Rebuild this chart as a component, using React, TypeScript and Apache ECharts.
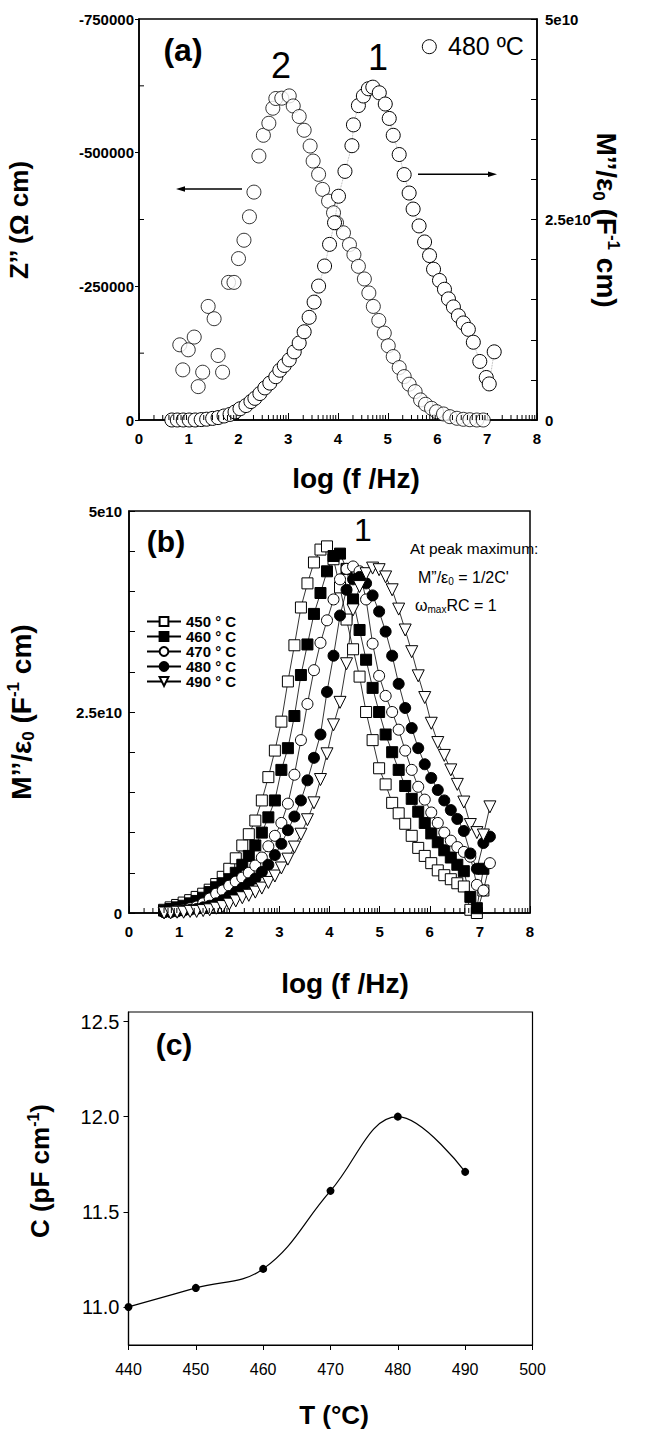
import React, { useEffect, useRef } from "react";
import * as echarts from "echarts";

// ---------- Panel (a): 480 °C, Z'' (left axis) and M''/eps0 (right axis) ----------
const zLogF = [0.82,0.88,0.99,1.11,1.19,1.28,1.39,1.51,1.59,1.68,1.80,1.91,2.00,2.11,2.22,2.31,2.41,2.50,2.61,2.69,2.75,2.87,3.02,3.10,3.22,3.32,3.44,3.50,3.61,3.69,3.81,3.91,3.97,4.11,4.23,4.32,4.41,4.53,4.62,4.71,4.82,4.93,5.01,5.11,5.23,5.33,5.43,5.55,5.66,5.76,5.88,5.98,6.12,6.25,6.39,6.52,6.65,6.79,6.92,7.02];
const zValues = [-140600,-93800,-131300,-155100,-62400,-89400,-212400,-189400,-120600,-89400,-257400,-257400,-301900,-336200,-380100,-426200,-493700,-532500,-555000,-583100,-601300,-601900,-606200,-587400,-567600,-541900,-512400,-484300,-459400,-431300,-409300,-387600,-368800,-350100,-328100,-309400,-287400,-263800,-237600,-212400,-186200,-162600,-138800,-118700,-98100,-81200,-66900,-53100,-37500,-29400,-21900,-15600,-11300,-6200,-3200,-1300,-500,0,0,1000];

const mLogF = [0.66,0.77,0.89,1.01,1.13,1.25,1.36,1.48,1.59,1.71,1.83,1.93,2.03,2.15,2.25,2.33,2.43,2.53,2.63,2.75,2.83,2.92,3.02,3.12,3.22,3.32,3.42,3.52,3.61,3.73,3.83,3.93,4.01,4.14,4.28,4.31,4.41,4.51,4.61,4.70,4.83,4.95,5.03,5.11,5.23,5.33,5.43,5.51,5.63,5.74,5.84,5.92,6.04,6.14,6.22,6.32,6.42,6.52,6.62,6.72,6.85,6.98,7.04,7.14];
// M''/eps0 in units of 1e10 F^-1 cm
const mValues = [0,0,0,0,0,0.005,0.01,0.02,0.03,0.05,0.07,0.10,0.14,0.18,0.23,0.27,0.33,0.40,0.46,0.54,0.62,0.68,0.75,0.85,0.96,1.10,1.28,1.47,1.67,1.92,2.19,2.46,2.79,3.10,3.42,3.68,3.92,4.04,4.13,4.15,4.08,3.94,3.76,3.55,3.31,3.06,2.83,2.63,2.42,2.22,2.05,1.88,1.74,1.63,1.51,1.41,1.30,1.21,1.13,0.97,0.73,0.53,0.45,0.85];

// ---------- Panel (b): M''/eps0 (1e10) vs log f at five temperatures ----------
const bLogF = [0.70,0.83,0.96,1.09,1.22,1.35,1.48,1.61,1.74,1.87,2.00,2.13,2.26,2.39,2.52,2.65,2.78,2.91,3.04,3.17,3.30,3.43,3.56,3.69,3.82,3.95,4.08,4.21,4.34,4.47,4.60,4.73,4.86,4.99,5.12,5.25,5.38,5.51,5.64,5.77,5.90,6.03,6.16,6.29,6.42,6.55,6.68,6.81,6.94,7.07,7.20];
const m450 = [0.04,0.07,0.10,0.13,0.16,0.20,0.24,0.29,0.36,0.45,0.55,0.68,0.84,0.98,1.15,1.40,1.69,2.02,2.38,2.88,3.33,3.80,4.10,4.36,4.52,4.56,4.40,4.05,3.65,3.28,2.94,2.50,2.15,1.80,1.60,1.37,1.24,1.11,0.96,0.81,0.71,0.62,0.53,0.47,0.42,0.37,0.33,0.04,0.00,0.28,null];
const m460 = [0.03,0.05,0.07,0.09,0.12,0.15,0.19,0.26,0.32,0.37,0.42,0.50,0.60,0.71,0.84,1.00,1.19,1.40,1.78,2.05,2.45,2.96,3.34,3.72,3.98,4.25,4.44,4.47,4.28,3.90,3.52,3.15,2.80,2.50,2.22,2.00,1.78,1.58,1.42,1.26,1.12,0.99,0.88,0.78,0.69,0.60,0.52,0.20,0.06,0.55,null];
const m470 = [0.01,0.02,0.03,0.04,0.06,0.08,0.12,0.18,0.24,0.28,0.34,0.39,0.44,0.50,0.59,0.69,0.83,0.96,1.12,1.36,1.72,2.15,2.60,3.02,3.36,3.64,3.90,4.15,4.28,4.31,4.25,3.90,3.35,2.95,2.70,2.50,2.28,2.02,1.78,1.57,1.41,1.25,1.12,1.00,0.90,0.82,0.76,0.70,0.35,0.28,0.62];
const m480 = [0.01,0.01,0.02,0.03,0.04,0.05,0.07,0.09,0.12,0.16,0.21,0.26,0.31,0.37,0.43,0.51,0.60,0.72,0.86,1.03,1.20,1.40,1.65,1.93,2.22,2.75,3.20,3.70,4.02,4.15,4.18,4.10,3.95,3.75,3.50,3.20,2.85,2.55,2.30,2.05,1.85,1.68,1.53,1.40,1.28,1.17,1.02,0.74,0.55,0.87,0.95];
const m490 = [0.00,0.00,0.01,0.01,0.02,0.02,0.03,0.04,0.06,0.08,0.11,0.15,0.19,0.22,0.26,0.31,0.38,0.46,0.56,0.67,0.82,0.98,1.16,1.37,1.66,1.98,2.34,2.62,3.10,3.77,4.06,4.22,4.29,4.27,4.18,4.02,3.78,3.52,3.25,2.95,2.68,2.36,2.12,1.96,1.78,1.60,1.38,1.10,1.00,0.97,1.32];
const bNames = ["450 ° C", "460 ° C", "470 ° C", "480 ° C", "490 ° C"];

// ---------- Panel (c): C vs T ----------
const cTemps = [440, 450, 460, 470, 480, 490];
const cValues = [11.0, 11.1, 11.2, 11.61, 12.0, 11.71];

// tick labels / tick positions
const yTicksC = [11.0, 11.5, 12.0, 12.5];
const yMinorA = [-625000, -375000, -125000];

const FF = "'Liberation Sans', Arial, Helvetica, sans-serif";
const K = "#000";

const logMinor: number[] = [];
for (let n = 0; n < 8; n++) for (let k = 2; k <= 9; k++) logMinor.push(n + Math.log10(k));

const pair = (xs: number[], ys: (number | null)[]) => xs.map((x, i) => [x, ys[i]]);

function mainX(grid: number) {
  return {
    gridIndex: grid, type: "value", min: 0, max: 8, interval: 1, position: "bottom",
    axisLine: { lineStyle: { color: K, width: 1.5 } },
    axisTick: { inside: true, length: 7, lineStyle: { color: K, width: 1 } },
    axisLabel: { color: K, fontFamily: FF, fontWeight: "bold", fontSize: 15, margin: 11 },
    splitLine: { show: false },
  };
}

// small tick marks drawn through the axis scales
function tickSeries(xIdx: number, yIdx: number, pts: number[][], dir: "up" | "right", len: number) {
  return {
    type: "custom", xAxisIndex: xIdx, yAxisIndex: yIdx, silent: true, clip: false,
    data: pts,
    renderItem: (_p: any, api: any) => {
      const c = api.coord([api.value(0), api.value(1)]);
      const x2 = dir === "right" ? c[0] + len : c[0];
      const y2 = dir === "up" ? c[1] - len : c[1];
      return { type: "line", shape: { x1: c[0], y1: c[1], x2, y2 }, style: { stroke: K, lineWidth: 1 } };
    },
    z: 5,
  };
}

const eLabel = (v: number) => (v === 0 ? "0" : `${v}e10`);

function text(x: number, y: number, t: string, size: number, extra: any = {}) {
  return {
    type: "text", x, y, rotation: extra.rotation || 0,
    style: {
      text: t, fill: K, fontFamily: FF, fontSize: size, fontWeight: extra.weight || "normal",
      textAlign: extra.align || "center", textVerticalAlign: "middle", verticalAlign: "middle",
      rich: extra.rich,
    },
  };
}
function richSet(size: number, weight: string) {
  const sub = Math.round(size * 0.6);
  return {
    sub: { fontFamily: FF, fontWeight: weight, fontSize: sub, fill: K, verticalAlign: "bottom", lineHeight: size * 1.15 },
    sup: { fontFamily: FF, fontWeight: weight, fontSize: sub, fill: K, verticalAlign: "top", lineHeight: size * 1.15 },
  };
}

export default function App() {
  const ref = useRef<HTMLDivElement>(null);
  useEffect(() => {
    document.body.style.margin = "0";
    const chart = echarts.init(ref.current!, null, { renderer: "svg" });
    const openStyle = { color: "#fff", borderColor: K, borderWidth: 1 };
    const filledStyle = { color: K, borderColor: K, borderWidth: 1 };
    const bLine = { color: K, width: 0.8 };
    const bSpecs = [
      { d: m450, symbol: "rect", item: openStyle, size: 11, rot: 0 },
      { d: m460, symbol: "rect", item: filledStyle, size: 11, rot: 0 },
      { d: m470, symbol: "circle", item: openStyle, size: 11, rot: 0 },
      { d: m480, symbol: "circle", item: filledStyle, size: 11, rot: 0 },
      { d: m490, symbol: "triangle", item: openStyle, size: 12, rot: 180 },
    ];

    const option: any = {
      animation: false,
      backgroundColor: "#fff",
      grid: [
        { left: 139, top: 19, width: 398, height: 401, show: true, borderColor: K, borderWidth: 1.5, backgroundColor: "transparent" },
        { left: 129, top: 511, width: 401, height: 402, show: true, borderColor: K, borderWidth: 1.5, backgroundColor: "transparent" },
        { left: 128.5, top: 1012, width: 404, height: 333, show: true, borderColor: K, borderWidth: 1.2, backgroundColor: "transparent" },
      ],
      xAxis: [
        mainX(0), mainX(1),
        {
          gridIndex: 2, type: "value", min: 440, max: 500, interval: 10, position: "bottom",
          axisLine: { lineStyle: { color: K, width: 1.2 } },
          axisTick: { inside: false, length: 5, lineStyle: { color: K, width: 1 } },
          axisLabel: { color: K, fontFamily: FF, fontSize: 16, margin: 16 },
          splitLine: { show: false },
        },
      ],
      yAxis: [
        {
          gridIndex: 0, type: "value", min: -750000, max: 0, interval: 250000, inverse: true, position: "left",
          axisLine: { lineStyle: { color: K, width: 1.5 } },
          axisTick: { inside: false, length: 4, lineStyle: { color: K } },
          axisLabel: { color: K, fontFamily: FF, fontWeight: "bold", fontSize: 15, margin: 5, formatter: (v: number) => String(v) },
          splitLine: { show: false },
        },
        {
          gridIndex: 0, type: "value", min: 0, max: 5, interval: 2.5, position: "right",
          axisLine: { lineStyle: { color: K, width: 1.5 } },
          axisTick: { inside: true, length: 6, lineStyle: { color: K } },
          minorTick: { show: true, splitNumber: 5, length: 6, lineStyle: { color: K } },
          axisLabel: { color: K, fontFamily: FF, fontWeight: "bold", fontSize: 15, margin: 8, formatter: eLabel },
          splitLine: { show: false }, minorSplitLine: { show: false },
        },
        {
          gridIndex: 1, type: "value", min: 0, max: 5, interval: 2.5, position: "left",
          axisLine: { lineStyle: { color: K, width: 1.5 } },
          axisTick: { inside: true, length: 6, lineStyle: { color: K } },
          minorTick: { show: true, splitNumber: 5, length: 6, lineStyle: { color: K } },
          axisLabel: { color: K, fontFamily: FF, fontWeight: "bold", fontSize: 15, margin: 7, formatter: eLabel },
          splitLine: { show: false }, minorSplitLine: { show: false },
        },
        {
          gridIndex: 2, type: "value", min: 10.8, max: 12.55, position: "left",
          axisLine: { lineStyle: { color: K, width: 1.2 } },
          axisTick: { inside: false, length: 5, customValues: yTicksC, lineStyle: { color: K } },
          axisLabel: { color: K, fontFamily: FF, fontSize: 20, margin: 9, customValues: yTicksC, formatter: (v: number) => v.toFixed(1) },
          splitLine: { show: false },
        },
      ],
      legend: {
        data: bNames, orient: "vertical", left: 146, top: 614, padding: 0,
        itemWidth: 34, itemHeight: 11, itemGap: 0,
        textStyle: { color: K, fontFamily: FF, fontWeight: "bold", fontSize: 15, lineHeight: 13.75 },
      },
      series: [
        {
          type: "scatter", name: "Z''", xAxisIndex: 0, yAxisIndex: 0, data: pair(zLogF, zValues),
          symbol: "circle", symbolSize: 14, itemStyle: openStyle,
        },
        {
          type: "line", name: "M''", xAxisIndex: 0, yAxisIndex: 1, data: pair(mLogF, mValues),
          symbol: "circle", symbolSize: 14, itemStyle: openStyle,
          lineStyle: { color: "#999", width: 0.8, type: "dotted" },
        },
        ...bSpecs.map((s, i) => ({
          type: "line", name: bNames[i], xAxisIndex: 1, yAxisIndex: 2, data: pair(bLogF, s.d),
          symbol: s.symbol, symbolSize: s.size, symbolRotate: s.rot, itemStyle: s.item, lineStyle: bLine,
          connectNulls: false,
        })),
        {
          type: "line", name: "C", xAxisIndex: 2, yAxisIndex: 3, data: pair(cTemps, cValues),
          symbol: "circle", symbolSize: 8, smooth: 0.4, itemStyle: { color: K },
          lineStyle: { color: K, width: 1.2 },
        },
        tickSeries(0, 0, logMinor.map((v) => [v, 0]), "up", 5),
        tickSeries(1, 2, logMinor.map((v) => [v, 0]), "up", 5),
        tickSeries(0, 0, yMinorA.map((v) => [0, v]), "right", 5),
      ],
      graphic: [
        // panel (a)
        text(183, 50, "(a)", 32, { weight: "bold" }),
        text(281, 65, "2", 36),
        text(378, 57, "1", 36),
        { type: "circle", shape: { cx: 429.3, cy: 46.7, r: 7 }, style: { fill: "#fff", stroke: K, lineWidth: 1 } },
        text(448, 46, "480 ºC", 25, { align: "left" }),
        { type: "line", shape: { x1: 242, y1: 189, x2: 180, y2: 189 }, style: { stroke: K, lineWidth: 1.5 } },
        { type: "polygon", shape: { points: [[176, 189], [185, 186.2], [185, 191.8]] }, style: { fill: K } },
        { type: "line", shape: { x1: 418, y1: 174.3, x2: 493, y2: 174.3 }, style: { stroke: K, lineWidth: 1.5 } },
        { type: "polygon", shape: { points: [[497, 174.3], [488, 171.5], [488, 177.1]] }, style: { fill: K } },
        text(19, 220, "Z’’ (Ω cm)", 26, { weight: "bold", rotation: Math.PI / 2 }),
        text(606, 220, "M’’/ε{sub|0} (F{sup|-1} cm)", 28, { weight: "bold", rotation: -Math.PI / 2, rich: richSet(28, "bold") }),
        text(356, 478, "log (f /Hz)", 28, { weight: "bold" }),
        // panel (b)
        text(166, 541, "(b)", 30, { weight: "bold" }),
        text(363, 530, "1", 32),
        text(410, 548, "At peak maximum:", 15.5, { align: "left" }),
        text(418, 577, "M”/ε{sub|0} = 1/2C'", 16, { align: "left", rich: richSet(16, "normal") }),
        text(415, 605, "ω{sub|max}RC = 1", 16, { align: "left", rich: richSet(16, "normal") }),
        text(21, 712, "M’’/ε{sub|0} (F{sup|-1} cm)", 28, { weight: "bold", rotation: Math.PI / 2, rich: richSet(28, "bold") }),
        text(345, 983, "log (f /Hz)", 28, { weight: "bold" }),
        // panel (c)
        text(174, 1044, "(c)", 30, { weight: "bold" }),
        text(40, 1171, "C (pF cm{sup|-1})", 26, { weight: "bold", rotation: Math.PI / 2, rich: richSet(26, "bold") }),
        text(334, 1415, "T (°C)", 26, { weight: "bold" }),
      ],
    };
    chart.setOption(option);
    return () => chart.dispose();
  }, []);
  return <div ref={ref} style={{ width: 649, height: 1429, background: "#fff" }} />;
}
